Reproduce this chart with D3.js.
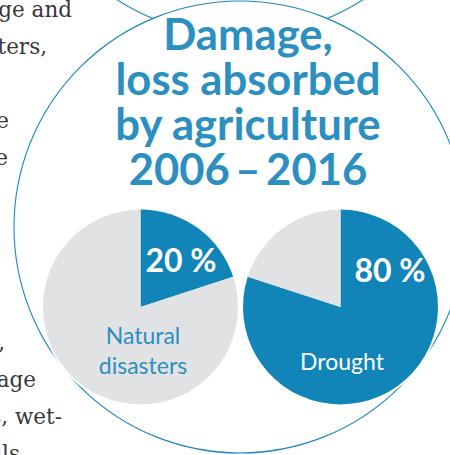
<!DOCTYPE html>
<html><head><meta charset="utf-8">
<script src="https://cdn.jsdelivr.net/npm/d3@7"></script>
<style>html,body{margin:0;padding:0;background:#fff;overflow:hidden}svg{display:block}</style>
</head><body>
<svg id="c" width="450" height="455"></svg>
<script>
// ---- data ----
const categories = ["Natural disasters", "Drought"];
const shares = [20, 80];          // blue share, percent
const remainders = [80, 20];      // grey share, percent
const shareLabels = ["20 %", "80 %"];
const categoryLines = [["Natural", "disasters"], ["Drought"]];
const titleLines = ["Damage,", "loss absorbed", "by agriculture", "2006\u2009–\u20092016"];
const bodyLines = ["ge and", "sters,", "", "e", "e", "", "", "", "", ",", "age", "s, wet-", "ils"];
const bodyLineEnds = [72, 47, 0, 9, 8, 0, 0, 0, 0, 5, 36, 62, 20];

// ---- style ----
const BLUE = "#1185b7", GREY = "#e1e2e4", TITLE = "#2b8fc1", LINE = "#1a86bd";
const svg = d3.select("#c");

// body text column on the left, running off the edge
const bodyY = d3.scaleLinear().domain([0, 1]).range([17, 54]);
svg.append("g").selectAll("text").data(bodyLines).join("text")
  .attr("x", (d, i) => bodyLineEnds[i])
  .attr("y", (d, i) => bodyY(i))
  .attr("text-anchor", "end")
  .attr("font-family", "DejaVu Serif")
  .attr("font-size", 21.5)
  .attr("fill", "#383838")
  .text(d => d);

// decorative circles
svg.append("circle").attr("cx", 240).attr("cy", -190).attr("r", 226)
  .attr("fill", "#fff").attr("stroke", LINE).attr("stroke-width", 1.1);
svg.append("circle").attr("cx", 240).attr("cy", 227).attr("r", 226)
  .attr("fill", "#fff").attr("stroke", LINE).attr("stroke-width", 1.1);

// title
const tg = svg.append("g").attr("font-family", "Lato").attr("font-weight", 700).attr("fill", TITLE)
  .attr("text-anchor", "middle");
const probe = tg.append("text").attr("font-size", 40).text(titleLines[1]);
const w = probe.node().getComputedTextLength();
probe.remove();
const titleSize = 40 * 265 / w;
const titleY = d3.scaleLinear().domain([0, 1]).range([50, 95]);
tg.attr("font-size", titleSize).selectAll("text").data(titleLines).join("text")
  .attr("x", 248).attr("y", (d, i) => titleY(i)).text(d => d);

// pies
const R = 97.5;
const xPie = d3.scalePoint().domain(categories).range([140.5, 340.5]);
const pie = d3.pie().sort(null).value(d => d.v);
const arc = d3.arc().innerRadius(0).outerRadius(R);
categories.forEach((cat, i) => {
  const g = svg.append("g").attr("transform", `translate(${xPie(cat)},307)`);
  g.append("circle").attr("r", R + 2).attr("fill", "#fff");
  g.selectAll("path").data(pie([{v: shares[i], c: BLUE}, {v: remainders[i], c: GREY}]))
    .join("path").attr("d", arc).attr("fill", d => d.data.c);
});

// share labels
const shareX = [181, 390], shareY = [272, 282];
svg.append("g").selectAll("text").data(shareLabels).join("text")
  .attr("x", (d, i) => shareX[i]).attr("y", (d, i) => shareY[i])
  .attr("text-anchor", "middle").attr("font-family", "Lato").attr("font-weight", 700)
  .attr("font-size", 32).attr("fill", "#fff").text(d => d);

// category labels
const catX = [143, 342], catY = [344, 370], catFill = [TITLE, "#fff"];
categoryLines.forEach((lines, i) => {
  svg.append("g").selectAll("text").data(lines).join("text")
    .attr("x", catX[i]).attr("y", (d, j) => catY[i] + j * 30)
    .attr("text-anchor", "middle").attr("font-family", "Lato").attr("font-weight", 400)
    .attr("font-size", 23).attr("fill", catFill[i]).text(d => d);
});
</script>
</body></html>
